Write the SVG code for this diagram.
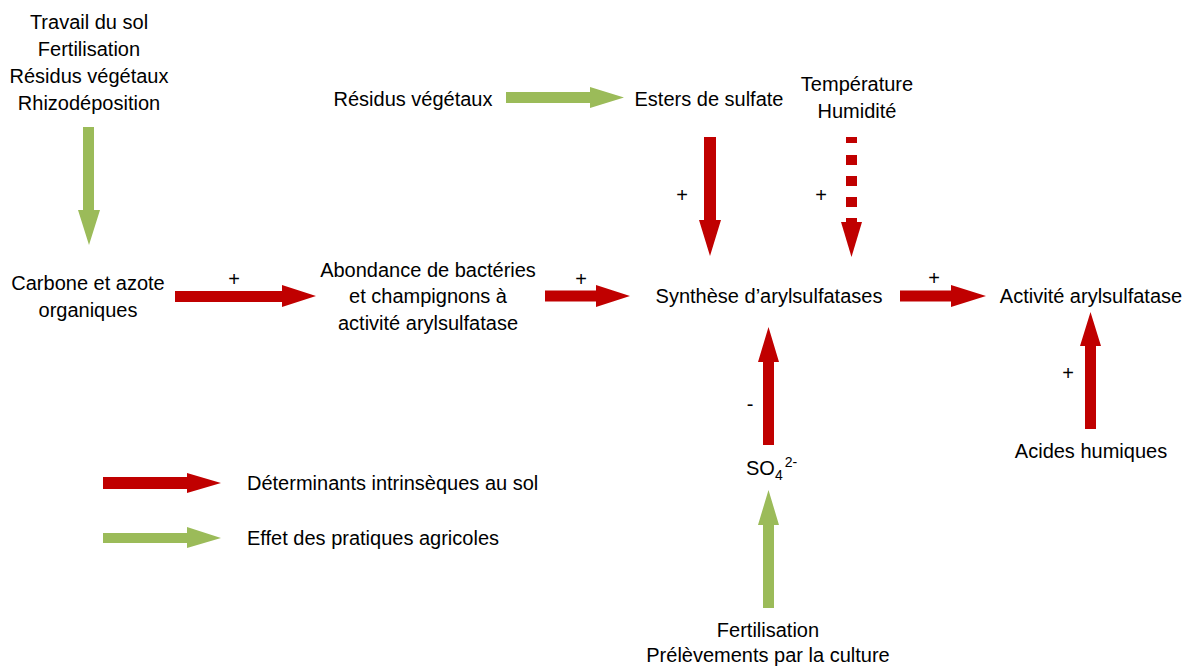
<svg xmlns="http://www.w3.org/2000/svg" width="1195" height="668" viewBox="0 0 1195 668">
<style>
text{font-family:"Liberation Sans",Arial,sans-serif;font-size:20px;fill:#000}
.c{text-anchor:middle}
.s{font-size:20px;fill:#000}
.r{fill:#C00000}
.g{fill:#9BBB59}
</style>
<rect width="1195" height="668" fill="#fff"/>
<g id="connectors">
<polygon class="g" points="83,127 94,127 94,210 100,210 89,245 78,210 83,210"/>
<polygon class="r" points="175,291 282,291 282,285 316,296 282,307 282,302 175,302"/>
<polygon class="g" points="506,92 590,92 590,87 624,97.5 590,108 590,103 506,103"/>
<polygon class="r" points="545,290.5 596,290.5 596,285 630,296 596,307 596,301.5 545,301.5"/>
<polygon class="r" points="704,137 716,137 716,220 721,220 710,256 699,220 704,220"/>
<g class="r">
<rect x="846" y="137" width="11" height="6"/>
<rect x="846" y="155" width="11" height="10"/>
<rect x="846" y="176" width="11" height="10"/>
<rect x="846" y="197" width="11" height="10"/>
<rect x="846" y="218" width="11" height="5"/>
<polygon points="841,222 862,222 851.5,257"/>
</g>
<polygon class="r" points="900,290.5 951,290.5 951,285 986,296 951,307 951,301.5 900,301.5"/>
<polygon class="r" points="763,445 774,445 774,362 779,362 768.5,327 758,362 763,362"/>
<polygon class="r" points="1085,429 1096,429 1096,346 1101,346 1090.5,312 1080,346 1085,346"/>
<polygon class="g" points="763,608 774,608 774,525 779,525 768.5,490 758,525 763,525"/>
<text class="c s" x="234" y="286">+</text>
<text class="c s" x="581" y="286">+</text>
<text class="c s" x="934" y="285">+</text>
<text class="c s" x="682" y="202">+</text>
<text class="c s" x="821" y="202">+</text>
<text class="c s" x="1068" y="380">+</text>
<text class="c s" x="750" y="411">-</text>
</g>
<g id="n-pratiques">
<text class="c" x="89" y="29">Travail du sol</text>
<text class="c" x="89" y="56">Fertilisation</text>
<text class="c" x="89" y="83">Résidus végétaux</text>
<text class="c" x="89" y="110">Rhizodéposition</text>
</g>
<g id="n-carbone">
<text class="c" x="88" y="290">Carbone et azote</text>
<text class="c" x="88" y="317">organiques</text>
</g>
<g id="n-abondance">
<text class="c" x="428" y="277">Abondance de bactéries</text>
<text class="c" x="428" y="303">et champignons à</text>
<text class="c" x="428" y="330">activité arylsulfatase</text>
</g>
<g id="n-residus">
<text class="c" x="413" y="106">Résidus végétaux</text>
</g>
<g id="n-esters">
<text class="c" x="709" y="106">Esters de sulfate</text>
</g>
<g id="n-temperature">
<text class="c" x="857" y="91">Température</text>
<text class="c" x="857" y="118">Humidité</text>
</g>
<g id="n-synthese">
<text class="c" x="769" y="303">Synthèse d’arylsulfatases</text>
</g>
<g id="n-activite">
<text class="c" x="1091" y="303">Activité arylsulfatase</text>
</g>
<g id="n-acides">
<text class="c" x="1091" y="458">Acides humiques</text>
</g>
<g id="n-so4">
<text x="746" y="475">SO<tspan font-size="14" dy="5">4</tspan><tspan font-size="14" dx="2" dy="-13">2-</tspan></text>
</g>
<g id="n-fertilisation">
<text class="c" x="768" y="637">Fertilisation</text>
<text class="c" x="768" y="662">Prélèvements par la culture</text>
</g>
<g id="legend">
<polygon class="r" points="103,477 187,477 187,473 221,483 187,493 187,489 103,489"/>
<text x="247" y="490">Déterminants intrinsèques au sol</text>
<polygon class="g" points="103,533 187,533 187,527 221,538 187,548 187,543 103,543"/>
<text x="247" y="545">Effet des pratiques agricoles</text>
</g>
</svg>
